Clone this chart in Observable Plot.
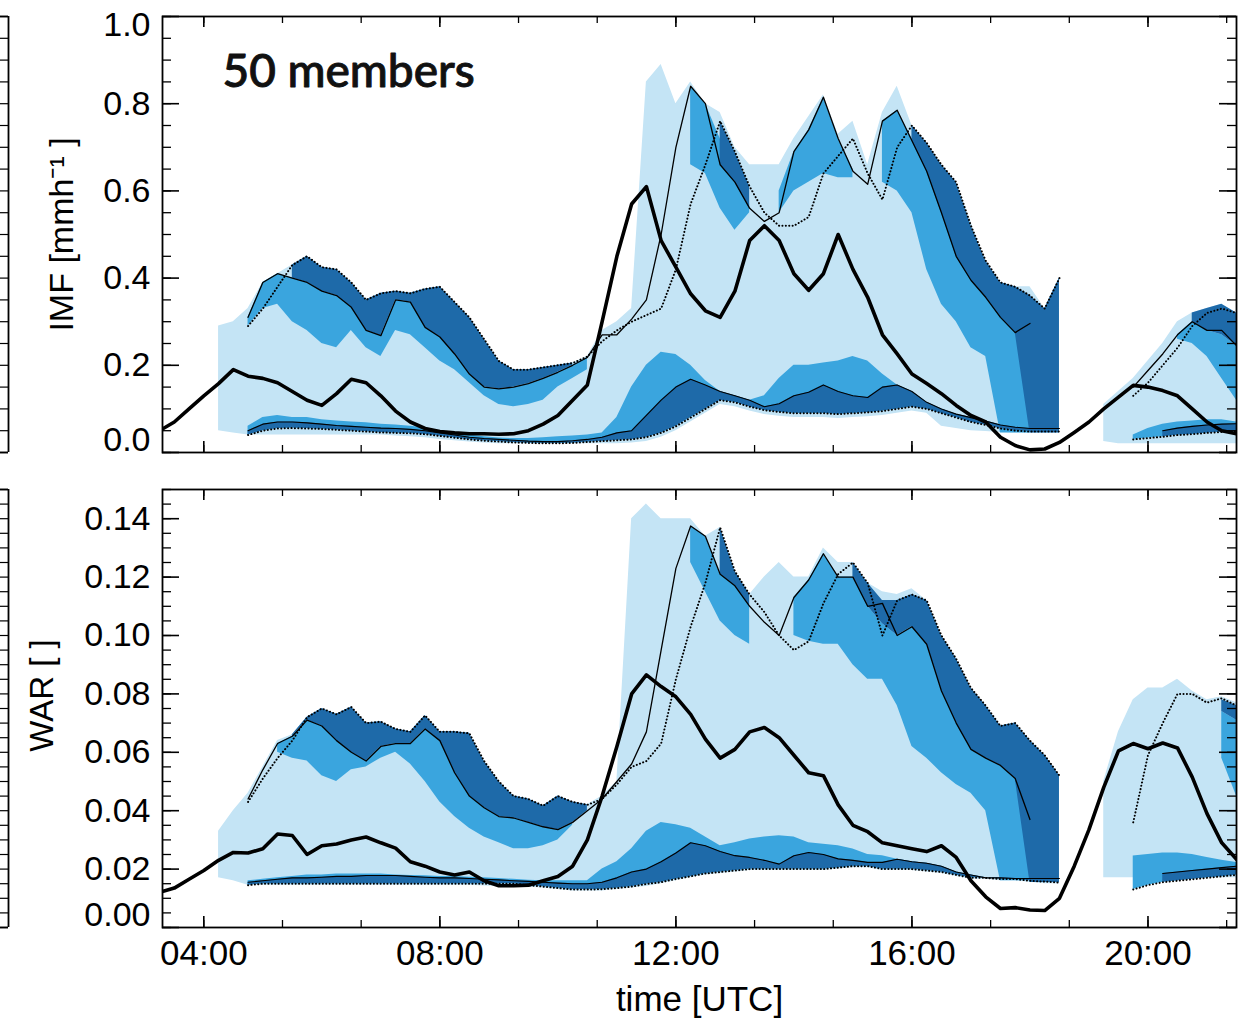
<!DOCTYPE html>
<html><head><meta charset="utf-8">
<script src="https://cdn.jsdelivr.net/npm/d3@7"></script>
<script src="https://cdn.jsdelivr.net/npm/@observablehq/plot@0.6"></script>
<style>
body{margin:0;background:#fff;}
#wrap{position:relative;width:1245px;height:1023px;overflow:hidden;background:#fff;}
</style></head><body><div id="wrap"></div>
<script>
// ---------------- time grid (hours UTC, 15-min steps) ----------------
const STEP = 0.25;
const OBS_START = 3.25;   // observation series start
const MAIN_START = 4.25;  // main ensemble segment start (to 18.5)
const RIGHT_START = 19.25;// right ensemble segment start (to 21.5)

const xTickHours = [4, 8, 12, 16, 20];
const xTickLabels = ["04:00", "08:00", "12:00", "16:00", "20:00"];

// ---------------- IMF panel ----------------
const imfTicks = [0, 0.2, 0.4, 0.6, 0.8, 1.0];
const imfObs = [0.05,0.07,0.10,0.13,0.158,0.19,0.175,0.17,0.16,0.14, 0.12,0.108,0.135,0.168,0.16,0.13,0.095,0.07,0.055,0.048, 0.045,0.043,0.043,0.042,0.043,0.05,0.065,0.085,0.12,0.155, 0.30,0.45,0.57,0.61,0.486,0.425,0.364,0.325,0.31,0.37, 0.486,0.52,0.486,0.41,0.372,0.41,0.50,0.42,0.356,0.27, 0.226,0.18,0.158,0.135,0.108,0.085,0.07,0.035,0.016,0.006, 0.008,0.023,0.046,0.07,0.10,0.127,0.154,0.15,0.142,0.13, 0.10,0.07,0.05,0.043];
const imfLightHi = [0.29,0.30,0.33,0.39,0.41,0.43,0.45,0.425,0.42,0.39, 0.35,0.365,0.37,0.365,0.375,0.38,0.345,0.31,0.26,0.21, 0.19,0.19,0.195,0.20,0.205,0.22,0.28,0.30,0.33,0.85, 0.89,0.80,0.85,0.80,0.78,0.70,0.66,0.66,0.66,0.72, 0.77,0.82,0.73,0.76,0.66,0.78,0.84,0.75,0.70,0.66, 0.62,0.53,0.43,0.39,0.38,0.38,0.33,0.40];
const imfLightLo = [0.05,0.045,0.04,0.04,0.04,0.04,0.04,0.04,0.04,0.04, 0.04,0.04,0.038,0.036,0.034,0.03,0.027,0.024,0.022,0.02, 0.02,0.02,0.02,0.02,0.02,0.02,0.02,0.02,0.022,0.025, 0.035,0.05,0.07,0.09,0.11,0.105,0.095,0.087,0.083,0.08, 0.08,0.08,0.078,0.08,0.082,0.085,0.09,0.095,0.09,0.06, 0.055,0.05,0.048,0.046,0.045,0.044,0.044,0.044];
const imfMedULo = [null,null,0.29,0.33,0.34,0.30,0.28,0.25,0.24,0.28, 0.24,0.22,0.28,0.27,0.24,0.21,0.19,0.16,0.13,0.11, 0.105,0.11,0.12,0.15,0.17,0.19,null,null,null,null, null,null,0.66,0.64,0.56,0.51,0.55,null,0.55,0.60, 0.62,0.64,0.63,0.63,null,0.62,0.60,0.55,0.42,0.34, 0.30,0.24,0.22,0.045,0.045,0.045,null,null];
const imfMedUHi = [null,null,0.31,0.39,0.41,0.40,0.39,0.37,0.36,0.333, 0.28,0.268,0.35,0.345,0.287,0.265,0.226,0.18,0.15,0.146, 0.15,0.158,0.17,0.184,0.20,0.218,null,null,null,null, null,null,0.84,0.80,0.72,0.63,0.57,null,0.60,0.69, 0.74,0.815,0.72,0.65,null,0.76,0.785,0.72,0.65,0.56, 0.46,0.40,0.36,0.32,0.30,0.28,null,null];
const imfDarkULo = [null,null,null,null,null,0.40,0.39,0.37,0.36,0.333, 0.28,0.268,0.35,0.345,0.287,0.265,0.226,0.18,0.15,0.146, 0.15,0.158,0.17,0.184,0.20,null,null,null,null,null, null,null,null,null,0.66,0.62,0.56,null,null,null, null,null,null,null,null,null,null,0.715,0.645,0.55, 0.45,0.395,0.356,0.31,0.275,0.045,0.045,0.045];
const imfDarkUHi = [null,null,null,null,null,0.43,0.45,0.425,0.42,0.39, 0.35,0.365,0.37,0.365,0.375,0.38,0.345,0.31,0.26,0.21, 0.19,0.19,0.195,0.20,0.205,null,null,null,null,null, null,null,null,null,0.76,0.69,0.61,null,null,null, null,null,null,null,null,null,null,0.75,0.71,0.66, 0.62,0.52,0.44,0.39,0.38,0.36,0.33,0.40];
const imfDotLo = [null,null,0.04,0.05,0.055,0.056,0.055,0.054,0.052,0.05, 0.048,0.046,0.045,0.044,0.042,0.038,0.034,0.03,0.027,0.025, 0.023,0.022,0.021,0.021,0.022,0.024,0.026,0.028,0.03,0.035, 0.045,0.06,0.08,0.10,0.12,0.115,0.105,0.097,0.093,0.09, 0.09,0.09,0.088,0.09,0.092,0.095,0.10,0.105,0.10,0.09, 0.08,0.07,0.063,0.055,0.05,0.048,0.048,0.048];
const imfMedBHi = [null,null,0.06,0.08,0.085,0.08,0.08,0.075,0.072,0.07, 0.068,0.065,0.063,0.06,0.057,0.05,0.045,0.04,0.036,0.033, 0.032,0.032,0.034,0.036,0.038,0.04,0.045,0.08,0.15,0.20, 0.23,0.225,0.20,0.165,0.14,0.13,0.12,0.13,0.17,0.20, 0.20,0.205,0.21,0.22,0.21,0.18,0.155,0.14,0.115,0.10, 0.088,0.08,0.072,0.063,0.058,0.055,0.055,0.055];
const imfThinLo = [null,null,0.05,0.065,0.07,0.07,0.068,0.065,0.062,0.06, 0.058,0.056,0.055,0.053,0.05,0.045,0.04,0.035,0.032,0.03, 0.028,0.026,0.025,0.025,0.027,0.03,0.035,0.045,0.05,0.085, 0.12,0.15,0.168,0.155,0.14,0.13,0.12,0.105,0.112,0.13, 0.138,0.155,0.14,0.13,0.126,0.15,0.155,0.14,0.115,0.10, 0.088,0.08,0.072,0.063,0.058,0.055,0.055,0.055];
const imfThinUp = [null,null,0.31,0.39,0.41,0.40,0.39,0.37,0.36,0.333, 0.28,0.268,0.35,0.345,0.287,0.265,0.226,0.18,0.15,0.146, 0.15,0.158,0.17,0.184,0.20,0.218,0.27,0.27,0.306,0.35, 0.50,0.70,0.84,0.80,0.66,0.62,0.56,0.53,0.55,0.69, 0.74,0.815,0.72,0.645,0.615,0.76,0.785,0.715,0.645,0.55, 0.45,0.395,0.356,0.31,0.275,0.296,null,null];
const imfDotUp = [null,null,0.29,0.33,0.38,0.43,0.45,0.425,0.42,0.39, 0.35,0.365,0.37,0.365,0.375,0.38,0.345,0.31,0.26,0.21, 0.19,0.19,0.195,0.20,0.205,0.22,0.255,0.28,0.30,0.315, 0.33,0.42,0.57,0.66,0.76,0.69,0.61,0.55,0.52,0.52, 0.54,0.64,0.68,0.72,0.64,0.58,0.70,0.75,0.71,0.66, 0.62,0.52,0.44,0.39,0.38,0.36,0.33,0.40];
// right segment 19:15 - 21:30
const imfRLightLo = [0.025,0.02,0.02,0.02,0.02,0.02,0.02,0.02,0.02,0.02];
const imfRLightHi = [0.11,0.14,0.17,0.21,0.25,0.30,0.32,0.33,0.34,0.32];
const imfRMedULo = [null,null,null,null,null,0.26,0.25,0.22,0.17,0.12];
const imfRMedUHi = [null,null,null,null,null,0.27,0.30,0.28,0.27,0.245];
const imfRDarkULo = [null,null,null,null,null,null,0.30,0.28,0.27,0.245];
const imfRDarkUHi = [null,null,null,null,null,null,0.32,0.33,0.34,0.32];
const imfRDotLo = [null,null,0.03,0.033,0.036,0.04,0.042,0.045,0.047,0.048];
const imfRMedBHi = [null,null,0.04,0.055,0.065,0.07,0.072,0.075,0.075,0.07];
const imfRThinLo = [null,null,null,null,0.05,0.056,0.06,0.063,0.065,0.066];
const imfRThinUp = [null,null,0.15,0.188,0.226,0.27,0.30,0.28,0.28,0.245];
const imfRDotUp = [null,null,0.13,0.16,0.20,0.24,0.29,0.32,0.33,0.32];

// ---------------- WAR panel ----------------
const warTicks = [0, 0.02, 0.04, 0.06, 0.08, 0.10, 0.12, 0.14];
const warObs = [0.012,0.0135,0.0165,0.0195,0.023,0.0257,0.0255,0.027,0.032,0.0315, 0.025,0.028,0.0286,0.030,0.031,0.029,0.0272,0.0225,0.021,0.019, 0.018,0.019,0.016,0.0143,0.0143,0.0145,0.016,0.0175,0.021,0.030, 0.045,0.062,0.08,0.0865,0.0825,0.079,0.073,0.0645,0.058,0.061, 0.067,0.0685,0.065,0.059,0.053,0.052,0.042,0.035,0.0328,0.029, 0.028,0.027,0.026,0.028,0.024,0.016,0.0105,0.0065,0.0068,0.006, 0.0058,0.010,0.021,0.0335,0.048,0.0605,0.063,0.0612,0.0632,0.0615, 0.0515,0.039,0.029,0.0234];
const warLightHi = [0.033,0.040,0.046,0.055,0.064,0.066,0.072,0.075,0.073,0.0755, 0.070,0.0705,0.068,0.067,0.0726,0.067,0.067,0.0665,0.057,0.050, 0.045,0.044,0.0417,0.045,0.043,0.042,0.045,0.050,0.14,0.145, 0.14,0.14,0.14,0.134,0.137,0.122,0.114,0.12,0.125,0.12, 0.12,0.13,0.125,0.125,0.118,0.115,0.114,0.116,0.112,0.10, 0.092,0.082,0.076,0.069,0.07,0.064,0.059,0.052];
const warLightLo = [0.017,0.016,0.0145,0.0145,0.0145,0.0145,0.0145,0.0145,0.0145,0.0145, 0.0145,0.0145,0.0145,0.0145,0.0145,0.0145,0.0145,0.0145,0.0142,0.014, 0.014,0.0138,0.0135,0.013,0.0125,0.0125,0.0125,0.013,0.0135,0.014, 0.015,0.016,0.017,0.018,0.0185,0.019,0.0195,0.0195,0.0195,0.0195, 0.0195,0.0195,0.02,0.0205,0.0205,0.0195,0.0195,0.0195,0.019,0.0185, 0.0175,0.0165,0.0165,0.016,0.016,0.0155,0.015,0.015];
const warMedULo = [null,null,null,null,0.060,0.058,0.057,0.052,0.05,0.054, 0.055,0.058,0.06,0.056,0.05,0.043,0.038,0.034,0.031,0.029, 0.027,0.027,0.028,0.030,0.035,null,null,null,null,null, null,null,0.125,0.115,0.105,0.10,0.097,null,null,0.10, 0.098,0.097,0.097,0.09,0.085,0.085,0.076,0.062,0.058,0.053, 0.049,0.046,0.04,0.016,0.016,0.016,null,null];
const warMedUHi = [null,null,null,null,0.063,0.0655,0.071,0.069,0.064,0.06, 0.057,0.062,0.063,0.063,0.068,0.064,0.053,0.045,0.041,0.038, 0.0375,0.036,0.0345,0.0335,0.036,null,null,null,null,null, null,null,0.1375,0.134,0.121,0.117,0.11,null,null,0.113, 0.119,0.128,0.12,0.12,0.11,0.104,0.10,0.103,0.097,0.081, 0.07,0.061,0.058,0.0555,0.051,0.045,null,null];
const warDarkULo = [null,null,null,null,null,0.0655,0.071,0.069,0.064,0.06, 0.057,0.062,0.063,0.063,0.068,0.064,0.053,0.045,0.041,0.038, 0.0375,0.036,0.0345,0.0335,0.036,0.04,null,null,null,null, null,null,null,null,0.121,0.117,0.11,null,null,null, null,null,null,0.12,0.11,0.104,0.10,0.103,0.097,0.081, 0.07,0.061,0.058,0.0555,0.051,0.0154,0.0154,0.0154];
const warDarkUHi = [null,null,null,null,null,0.066,0.072,0.075,0.073,0.0755, 0.07,0.0705,0.068,0.067,0.0726,0.067,0.067,0.0665,0.057,0.05, 0.045,0.044,0.0417,0.045,0.043,0.042,null,null,null,null, null,null,null,null,0.137,0.122,0.114,null,null,null, null,null,null,0.125,0.118,0.112,0.112,0.114,0.112,0.10, 0.092,0.082,0.076,0.069,0.07,0.064,0.059,0.052];
const warDotLo = [null,null,0.0145,0.015,0.015,0.015,0.015,0.015,0.015,0.015, 0.015,0.015,0.015,0.015,0.015,0.015,0.015,0.015,0.015,0.015, 0.015,0.0145,0.014,0.0135,0.013,0.013,0.0131,0.0135,0.014,0.0149, 0.0155,0.0166,0.0175,0.0185,0.019,0.0195,0.02,0.02,0.02,0.02, 0.02,0.02,0.0205,0.021,0.021,0.02,0.02,0.02,0.0195,0.019, 0.018,0.017,0.017,0.0166,0.0166,0.016,0.0157,0.0154];
const warMedBHi = [null,null,0.016,0.0165,0.017,0.0175,0.018,0.018,0.0183,0.0183, 0.0183,0.0183,0.018,0.0178,0.0177,0.0175,0.0175,0.0172,0.017,0.0168, 0.0165,0.0162,0.016,0.016,0.016,0.016,0.02,0.0225,0.027,0.033, 0.036,0.0352,0.034,0.031,0.028,0.029,0.0303,0.031,0.0314,0.031, 0.029,0.0285,0.028,0.0269,0.025,0.0246,0.0234,0.0225,0.022,0.021, 0.019,0.018,0.017,0.017,0.0168,0.0168,0.0168,0.0168];
const warThinLo = [null,null,0.0155,0.016,0.0165,0.017,0.017,0.0172,0.0175,0.0175, 0.0178,0.0178,0.0178,0.0175,0.0172,0.017,0.017,0.0168,0.0165,0.0163, 0.016,0.0158,0.0155,0.0152,0.015,0.015,0.0155,0.017,0.019,0.02, 0.0225,0.0255,0.029,0.028,0.026,0.0246,0.024,0.023,0.0217,0.0246, 0.0257,0.025,0.0235,0.023,0.0223,0.0223,0.0234,0.0225,0.022,0.021, 0.019,0.018,0.017,0.017,0.0168,0.0168,0.0168,0.0168];
const warThinUp = [null,null,0.044,0.054,0.063,0.0655,0.071,0.069,0.064,0.06, 0.057,0.062,0.063,0.063,0.068,0.064,0.053,0.045,0.041,0.038, 0.0375,0.036,0.0345,0.0335,0.036,0.04,0.044,0.05,0.056,0.067, 0.095,0.123,0.1375,0.134,0.121,0.117,0.11,0.1045,0.10,0.113, 0.119,0.128,0.12,0.12,0.11,0.111,0.10,0.103,0.097,0.081, 0.07,0.061,0.058,0.0555,0.051,0.037,null,null];
const warDotUp = [null,null,0.043,0.051,0.058,0.064,0.072,0.075,0.073,0.0755, 0.07,0.0705,0.068,0.067,0.0726,0.067,0.067,0.0665,0.057,0.05, 0.045,0.044,0.0417,0.045,0.043,0.042,0.044,0.049,0.055,0.057, 0.063,0.085,0.103,0.118,0.137,0.122,0.114,0.108,0.10,0.095, 0.098,0.111,0.121,0.125,0.118,0.10,0.112,0.114,0.112,0.10, 0.092,0.082,0.076,0.069,0.07,0.064,0.059,0.052];
const warRLightLo = [0.017,0.017,0.017,0.017,0.017,0.017,0.017,0.017,0.017,0.017];
const warRLightHi = [0.05,0.067,0.078,0.082,0.082,0.085,0.081,0.078,0.079,0.077];
const warRMedULo = [null,null,null,null,null,null,null,null,0.058,0.045];
const warRMedUHi = [null,null,null,null,null,null,null,null,0.074,0.071];
const warRDarkULo = [null,null,null,null,null,null,null,null,0.074,0.071];
const warRDarkUHi = [null,null,null,null,null,null,null,null,0.078,0.076];
const warRDotLo = [null,null,0.013,0.0145,0.0155,0.016,0.0165,0.017,0.0175,0.018];
const warRMedBHi = [null,null,0.0245,0.025,0.0255,0.0255,0.025,0.024,0.023,0.0223];
const warRThinLo = [null,null,null,null,0.0185,0.019,0.0195,0.02,0.0205,0.021];
const warRThinUp = [null,null,null,null,null,null,null,null,null,null];
const warRDotUp = [null,null,0.036,0.059,0.07,0.08,0.08,0.077,0.0785,0.076];

// ---------------- styling ----------------
const LIGHT = "#c4e4f5", MED = "#3aa5de", DARK = "#1e6aa9";
const W = 1245, ML = 162, MR = 9;
const X_DOMAIN = [3.3, 21.5];
const FONT = "'Liberation Sans', Arial, Helvetica, sans-serif";
const TICK_FS = 34;

function rows(start, cols) {
  const keys = Object.keys(cols);
  const n = cols[keys[0]].length;
  return d3.range(n).map(i => {
    const r = {t: start + i * STEP};
    for (const k of keys) r[k] = cols[k][i];
    return r;
  });
}

function ensembleMarks(data) {
  const line = {x: "t", stroke: "#000", clip: true};
  const dots = {...line, strokeWidth: 2, strokeDasharray: "0.1 3.3", strokeLinecap: "round"};
  return [
    Plot.areaY(data, {x: "t", y1: "lightLo", y2: "lightHi", fill: LIGHT, clip: true}),
    Plot.areaY(data, {x: "t", y1: "medULo", y2: "medUHi", fill: MED, clip: true}),
    Plot.areaY(data, {x: "t", y1: "dotLo", y2: "medBHi", fill: MED, clip: true}),
    Plot.areaY(data, {x: "t", y1: "darkULo", y2: "darkUHi", fill: DARK, clip: true}),
    Plot.areaY(data, {x: "t", y1: "dotLo", y2: "thinLo", fill: DARK, clip: true}),
    Plot.lineY(data, {...line, y: "thinUp", strokeWidth: 1.3}),
    Plot.lineY(data, {...line, y: "thinLo", strokeWidth: 1.1}),
    Plot.lineY(data, {...dots, y: "dotUp"}),
    Plot.lineY(data, {...dots, y: "dotLo"})
  ];
}

function tickMarks(innerW, innerH, yMajor, yMinor, xMajor, xMinor) {
  const s = {stroke: "#000"};
  return [
    Plot.tickY(yMajor, {y: d => d, insetRight: innerW - 17, strokeWidth: 1.6, ...s}),
    Plot.tickY(yMinor, {y: d => d, insetRight: innerW - 9, strokeWidth: 1.3, ...s}),
    Plot.tickY(yMajor, {y: d => d, insetLeft: innerW - 17, strokeWidth: 1.6, ...s}),
    Plot.tickY(yMinor, {y: d => d, insetLeft: innerW - 9, strokeWidth: 1.3, ...s}),
    Plot.tickX(xMajor, {x: d => d, insetTop: innerH - 11, strokeWidth: 1.6, ...s}),
    Plot.tickX(xMinor, {x: d => d, insetTop: innerH - 7, strokeWidth: 1.3, ...s}),
    Plot.tickX(xMajor, {x: d => d, insetBottom: innerH - 11, strokeWidth: 1.6, ...s}),
    Plot.tickX(xMinor, {x: d => d, insetBottom: innerH - 7, strokeWidth: 1.3, ...s})
  ];
}

const xMinor = d3.range(4 - 4 / 3, 21.5, 4 / 3).filter(h => h > X_DOMAIN[0] && h < X_DOMAIN[1]);

function panel(cfg) {
  const innerW = W - ML - MR;
  const innerH = cfg.height - cfg.mt - cfg.mb;
  const main = rows(MAIN_START, cfg.main);
  const right = rows(RIGHT_START, cfg.right);
  const obs = cfg.obs.map((v, i) => ({t: OBS_START + i * STEP, v}));
  const yMax = cfg.yDomain[1];
  const interior = cfg.yTicks.filter(v => v !== 0 && v !== yMax);
  const ax = {tickSize: 0, tickPadding: 12, tickFormat: cfg.fmt, fontSize: TICK_FS, label: null};
  const marks = [
    ...ensembleMarks(main),
    ...ensembleMarks(right),
    Plot.lineY(obs, {x: "t", y: "v", stroke: "#000", strokeWidth: 3.6, strokeLinejoin: "round", clip: true}),
    Plot.frame({stroke: "#000", strokeWidth: 1.8}),
    ...tickMarks(innerW, innerH, cfg.yTicks, cfg.yMinor, xTickHours, xMinor),
    Plot.axisY({...ax, ticks: interior}),
    Plot.axisY({...ax, ticks: [0], dy: -12}),
    Plot.text([cfg.yLabel], {frameAnchor: "left", rotate: -90, dx: cfg.labelDx, dy: cfg.labelDy || 0,
      textAnchor: "middle", lineAnchor: "middle", fontSize: cfg.labelSize, fill: "#000"})
  ];
  if (cfg.yTicks.includes(yMax)) marks.push(Plot.axisY({...ax, ticks: [yMax], dy: 9}));
  if (cfg.xAxis) {
    marks.push(Plot.axisX({ticks: xTickHours, tickSize: 0, tickPadding: 13,
      tickFormat: d => xTickLabels[xTickHours.indexOf(d)], fontSize: 35, label: null}));
    marks.push(Plot.text(["time [UTC]"], {frameAnchor: "bottom", dy: 72, fontSize: 35, lineAnchor: "middle", fill: "#000"}));
  }
  if (cfg.note) {
    marks.push(Plot.text([cfg.note], {frameAnchor: "top-left", dx: 60, dy: 38, textAnchor: "start", lineAnchor: "top",
      fontSize: 46, fontFamily: "Lato, 'Open Sans', sans-serif", fontWeight: 500,
      fill: "#111", stroke: "#111", strokeWidth: 0.9}));
  }
  return Plot.plot({
    width: W, height: cfg.height,
    marginLeft: ML, marginRight: MR, marginTop: cfg.mt, marginBottom: cfg.mb,
    x: {domain: X_DOMAIN, axis: null, label: null},
    y: {domain: cfg.yDomain, axis: null, label: null},
    style: {fontFamily: FONT, fontSize: TICK_FS + "px", color: "#000", background: "transparent", overflow: "visible"},
    marks
  });
}

// partial frame of the neighbouring panel at the far left edge
function stub(cfg) {
  return Plot.plot({
    width: 10, height: cfg.height, marginLeft: 0, marginRight: 2, marginTop: cfg.mt, marginBottom: cfg.mb,
    x: {domain: [0, 1], axis: null}, y: {domain: cfg.yDomain, axis: null},
    style: {background: "transparent", overflow: "visible"},
    marks: [
      Plot.ruleX([1], {stroke: "#000", strokeWidth: 1.8}),
      Plot.ruleY(cfg.yDomain, {stroke: "#000", strokeWidth: 1.8}),
      Plot.tickY(cfg.yMinor, {y: d => d, stroke: "#000", strokeWidth: 1.2})
    ]
  });
}

const imfCfg = {
  height: 470, mt: 16, mb: 18, yDomain: [0, 1.0], yTicks: imfTicks,
  yMinor: d3.range(0, 1.0001, 0.05), fmt: d3.format(".1f"),
  yLabel: "IMF [mmh⁻¹ ]", labelDx: -100, labelSize: 34, note: "50 members",
  obs: imfObs,
  main: {lightLo: imfLightLo, lightHi: imfLightHi, medULo: imfMedULo, medUHi: imfMedUHi, darkULo: imfDarkULo, darkUHi: imfDarkUHi,
         dotLo: imfDotLo, medBHi: imfMedBHi, thinLo: imfThinLo, thinUp: imfThinUp, dotUp: imfDotUp},
  right: {lightLo: imfRLightLo, lightHi: imfRLightHi, medULo: imfRMedULo, medUHi: imfRMedUHi, darkULo: imfRDarkULo, darkUHi: imfRDarkUHi,
          dotLo: imfRDotLo, medBHi: imfRMedBHi, thinLo: imfRThinLo, thinUp: imfRThinUp, dotUp: imfRDotUp}
};
const warCfg = {
  height: 553, mt: 19, mb: 96, yDomain: [0, 0.15], yTicks: warTicks,
  yMinor: d3.range(0, 0.1501, 0.005), fmt: d3.format(".2f"),
  yLabel: "WAR [ ]", labelDx: -120, labelDy: -13, labelSize: 33, xAxis: true,
  obs: warObs,
  main: {lightLo: warLightLo, lightHi: warLightHi, medULo: warMedULo, medUHi: warMedUHi, darkULo: warDarkULo, darkUHi: warDarkUHi,
         dotLo: warDotLo, medBHi: warMedBHi, thinLo: warThinLo, thinUp: warThinUp, dotUp: warDotUp},
  right: {lightLo: warRLightLo, lightHi: warRLightHi, medULo: warRMedULo, medUHi: warRMedUHi, darkULo: warRDarkULo, darkUHi: warRDarkUHi,
          dotLo: warRDotLo, medBHi: warRMedBHi, thinLo: warRThinLo, thinUp: warRThinUp, dotUp: warRDotUp}
};

const wrap = document.getElementById("wrap");
function place(el, top) {
  el.style.position = "absolute";
  el.style.left = "0px";
  el.style.top = top + "px";
  wrap.appendChild(el);
}
place(panel(imfCfg), 0);
place(panel(warCfg), 470);
place(stub(imfCfg), 0);
place(stub(warCfg), 470);
</script></body></html>
